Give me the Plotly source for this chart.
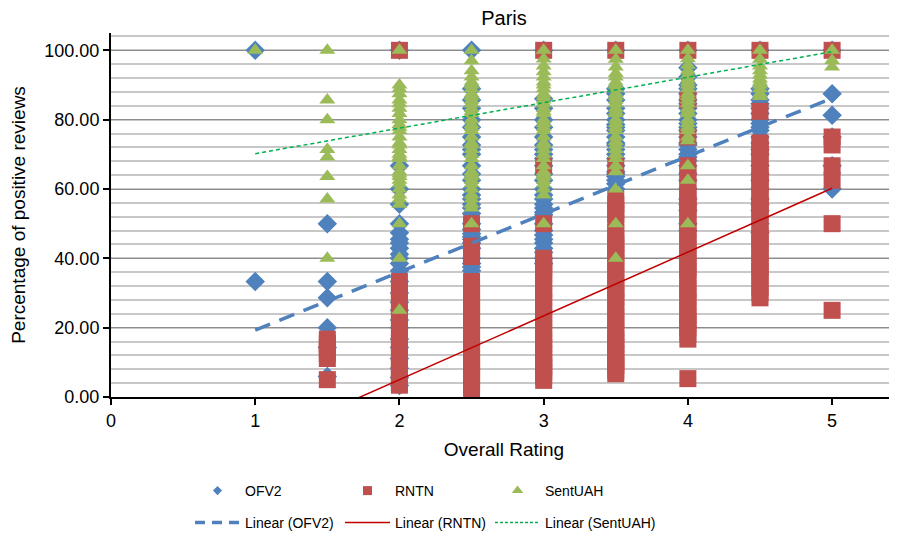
import plotly.graph_objects as go

# ---------------- data ----------------
ratings = [1, 1.5, 2, 2.5, 3, 3.5, 4, 4.5, 5]

ofv2_values = {
    1: [100, 33.3],
    1.5: [50, 33.3, 28.6, 20, 14.3, 5.9],
    2: [100, 66.7, 60, 55.6, 50, 47.4, 45.5, 44.4, 42.9, 41.2, 40, 38.5, 36.4, 33.3, 30,
        27.3, 25, 22.2, 20, 16.7, 14.3, 11.1, 8.3, 5.6, 3.3],
    2.5: [100, 88.9, 85.7, 83.3, 80, 77.8, 75, 72.7, 71.4, 70, 66.7, 64.3, 62.5, 60, 58.3,
          57.1, 55.6, 54.5, 52.9, 50, 48.3, 47.1, 46.2, 45.5, 44.4, 42.9, 40, 38.5, 37.5, 36.4],
    3: [100, 86, 83.3, 80, 77.8, 75, 72.7, 71.4, 70, 68.8, 66.7, 64.3, 62.5, 60, 58.3, 57.1,
        55.6, 54.5, 53.3, 52.6, 50, 48, 46.7, 45.5, 44.4, 42.9, 41.7, 40, 38.5],
    3.5: [100, 88.9, 87.5, 85.7, 83.3, 81.8, 80, 78.6, 77.8, 76.9, 75, 73.3, 72.7, 71.4, 70,
          68.8, 66.7, 65, 64.3, 63.6, 62.5, 61.5, 60],
    4: [100, 95, 92.3, 90, 88.9, 87.5, 85.7, 84.6, 83.3, 81.8, 80, 78.9, 77.8, 76.9, 75, 73.3,
        72.7, 71.4, 70, 69.2, 68.2, 66.7, 64.3, 62.5, 60, 57.1, 55.6, 53.8, 50, 48],
    4.5: [100, 88.9, 87.5, 85.7, 84.6, 83.3, 81.8, 80, 78.9, 77.8, 76.9, 75, 73.3, 71.4, 70,
          66.7, 64.3, 62.5, 60, 57.1, 55.6, 53.8, 50, 47.4],
    5: [100, 87.5, 81.25, 75, 66.7, 60],
}

rntn_values = {
    1.5: [16.7, 15.4, 14.3, 12.5, 11.1, 5],
    2: [100, 33.3, 31.3, 30, 28.6, 27.3, 25, 23.1, 22.2, 20, 18.2, 16.7, 15.4, 14.3, 12.5,
        11.1, 10, 9.1, 8.3, 7.1, 6.3, 5.3, 4.2, 3.4],
    2.5: [50, 43.5, 42.9, 41.7, 40.5, 33.3, 31.3, 30, 28.6, 27.3, 26.3, 25, 23.5, 22.2, 21.1,
          20, 18.2, 16.7, 15.4, 14.3, 12.5, 11.1, 10, 9.1, 8.3, 7.1, 5.9, 4.5, 3.4, 1.8],
    3: [100, 66.7, 50, 40, 38.5, 37.5, 36.4, 35.3, 33.3, 31.3, 30, 28.6, 27.3, 25, 23.1, 22.2,
        20, 18.2, 16.7, 15.4, 14.3, 12.5, 11.1, 10, 9.1, 8.3, 7.1, 5.9, 4.8],
    3.5: [100, 66.7, 57.1, 55.6, 53.8, 52.6, 50, 47.4, 45.5, 44.4, 42.9, 41.2, 40, 38.5, 36.4,
          35, 33.3, 31.3, 30, 28.6, 27.3, 25, 23.1, 22.2, 20, 18.2, 16.7, 15.4, 14.3, 12.5,
          11.1, 10, 9.1, 7.7, 6.7],
    4: [100, 85.7, 75, 66.7, 64.3, 62.5, 60, 58.3, 57.1, 55.6, 54.5, 53.3, 52.6, 50, 48.3,
        47.1, 45.5, 44.4, 42.9, 41.7, 40, 38.5, 37.5, 36.4, 35, 33.3, 31.3, 30, 28.6, 27.3,
        25, 23.5, 22.2, 21.4, 20, 18.2, 16.7, 5.3],
    4.5: [100, 82.4, 73.3, 72.7, 71.4, 70, 68.8, 66.7, 65, 63.6, 62.5, 61.5, 60, 58.3, 57.1,
          55.6, 54.5, 53.3, 52.6, 50, 48, 46.7, 45.5, 44.4, 42.9, 41.7, 40, 38.5, 37.5, 36.4,
          35, 33.3, 31.6, 30, 28.6],
    5: [100, 75, 72.7, 66.7, 62.5, 50, 25],
}

sentuah_values = {
    1: [100],
    1.5: [100, 85.7, 80, 71.4, 69.2, 63.6, 57.1, 40],
    2: [100, 90, 88.9, 87.5, 85.7, 84.6, 83.3, 81.8, 80, 78.6, 77.8, 76.9, 75, 73.3, 72.7,
        71.4, 70, 69.2, 68.8, 66.7, 65, 64.3, 63.6, 62.5, 61.5, 60, 58.3, 57.1, 55.6, 50,
        40, 25],
    2.5: [100, 97, 94.1, 92.3, 90.9, 90, 88.9, 87.5, 86.7, 85.7, 84.6, 83.3, 82.4, 81.8, 80,
          78.6, 77.8, 76.9, 75, 73.3, 72.7, 71.4, 70, 68.8, 66.7, 65, 64.3, 63.6, 62.5, 61.5,
          60, 58.3, 57.1, 55.6, 54.5, 50],
    3: [100, 97.5, 95.5, 93.8, 92.3, 90.9, 90, 88.9, 87.5, 86.7, 85.7, 84.6, 83.3, 82.4, 81.8,
        80, 78.9, 77.8, 76.9, 75, 73.3, 72.7, 71.4, 70, 68.8, 66.7, 65, 64.3, 63.6, 62.5,
        61.5, 60, 58.3, 50],
    3.5: [100, 97.4, 95.2, 93.3, 92.3, 90.9, 90, 88.9, 87.5, 86.7, 85.7, 84.6, 83.3, 82.4,
          81.8, 80, 78.9, 77.8, 76.9, 75, 73.7, 72.7, 71.4, 70, 68.8, 66.7, 65, 60, 50, 40],
    4: [100, 97.6, 95.7, 94.1, 92.9, 91.7, 90.9, 90, 88.9, 87.5, 86.7, 85.7, 84.6, 83.3, 82.4,
        81.8, 80, 78.9, 77.8, 76.9, 75, 73.9, 66.7, 62.5, 50],
    4.5: [100, 97.4, 95.5, 94.1, 92.9, 91.7, 90.9, 90, 88.9, 87.5, 86.7],
    5: [100, 97.1, 95.2],
}

trend_x = [1, 5]
ofv2_trend = [19.3, 86.2]
rntn_trend = [-13.4, 60.2]
sentuah_trend = [70.2, 99.6]

x_ticks = [0, 1, 2, 3, 4, 5]
y_ticks = [0, 20, 40, 60, 80, 100]

# ---------------- styles ----------------
BLUE = "#4F81BD"
RED = "#C0504D"
GREEN = "#9BBB59"
FONT = "Liberation Sans, Arial, sans-serif"

# the page body has an 8px default margin, so the figure is 8px smaller
W, H = 889, 528


def flatten(d):
    xs, ys = [], []
    for r in ratings:
        for v in d.get(r, []):
            xs.append(r)
            ys.append(v)
    return xs, ys


fig = go.Figure()

for values, color, symbol, size in [
    (ofv2_values, BLUE, "diamond", 15),
    (rntn_values, RED, "square", 17),
    (sentuah_values, GREEN, "triangle-up", 14),
]:
    xs, ys = flatten(values)
    fig.add_trace(go.Scatter(x=xs, y=ys, mode="markers", showlegend=False,
                             marker=dict(symbol=symbol, size=size, color=color,
                                         line=dict(width=0))))

fig.add_trace(go.Scatter(x=trend_x, y=ofv2_trend, mode="lines", showlegend=False,
                         line=dict(color=BLUE, width=3.5, dash="16px,10px")))
fig.add_trace(go.Scatter(x=trend_x, y=rntn_trend, mode="lines", showlegend=False,
                         line=dict(color="#C00000", width=1.5)))
fig.add_trace(go.Scatter(x=trend_x, y=sentuah_trend, mode="lines", showlegend=False,
                         line=dict(color="#00B050", width=1.5, dash="4px,3px")))

# legend-only entries
legend_items = [
    ("OFV2", dict(mode="markers", marker=dict(symbol="diamond", size=7, color=BLUE))),
    ("RNTN", dict(mode="markers", marker=dict(symbol="square", size=9, color=RED))),
    ("SentUAH", dict(mode="markers", marker=dict(symbol="triangle-up", size=10, color=GREEN))),
    ("Linear (OFV2)", dict(mode="lines", line=dict(color=BLUE, width=3.5, dash="10px,7px"))),
    ("Linear (RNTN)", dict(mode="lines", line=dict(color="#C00000", width=1.5))),
    ("Linear (SentUAH)", dict(mode="lines", line=dict(color="#00B050", width=1.5, dash="3px,2px"))),
]
legend_pos = [(182, 483), (332, 483), (482, 483), (182, 515), (332, 515), (482, 515)]
for i, ((name, kw), (px, py)) in enumerate(zip(legend_items, legend_pos)):
    lname = "legend" if i == 0 else f"legend{i + 1}"
    fig.add_trace(go.Scatter(x=[None], y=[None], name=name, legend=lname, showlegend=True, **kw))
    fig.update_layout({lname: dict(x=px / W, y=1 - py / H, xref="container", yref="container",
                                   xanchor="left", yanchor="middle", orientation="h",
                                   itemwidth=45, bgcolor="rgba(0,0,0,0)", borderwidth=0,
                                   font=dict(family=FONT, size=14, color="#000"))})

fig.update_layout(
    width=W, height=H,
    margin=dict(l=103, r=0, t=25, b=139, autoexpand=False),
    paper_bgcolor="white", plot_bgcolor="white",
    font=dict(family=FONT, size=18, color="#000"),
    title=dict(text="Paris", x=0.5, xref="paper", y=1, yref="container",
               xanchor="center", yanchor="top", pad=dict(t=3, b=0),
               font=dict(size=20, color="#000")),
    xaxis=dict(range=[0, 5.45], tickvals=x_ticks, ticks="outside", ticklen=6, tickwidth=1.5,
               tickcolor="#000", showline=True, linecolor="#000", linewidth=2,
               showgrid=False, zeroline=False, automargin=False,
               tickfont=dict(size=18),
               title=dict(text="Overall Rating", standoff=13, font=dict(size=19))),
    yaxis=dict(range=[0, 105], tickvals=y_ticks, tickformat=".2f", ticks="outside", ticklen=6,
               tickwidth=1.5, tickcolor="#000", showline=True, linecolor="#000", linewidth=2,
               showgrid=True, gridcolor="#8C8C8C", gridwidth=1.3, zeroline=False,
               automargin=False, tickfont=dict(size=18),
               minor=dict(dtick=4, tick0=0, showgrid=True, gridcolor="#C8C8C8", gridwidth=1.5),
               title=dict(text="Percentage of positive reviews", standoff=18,
                          font=dict(size=19))),
)

fig.write_html("out.html")
